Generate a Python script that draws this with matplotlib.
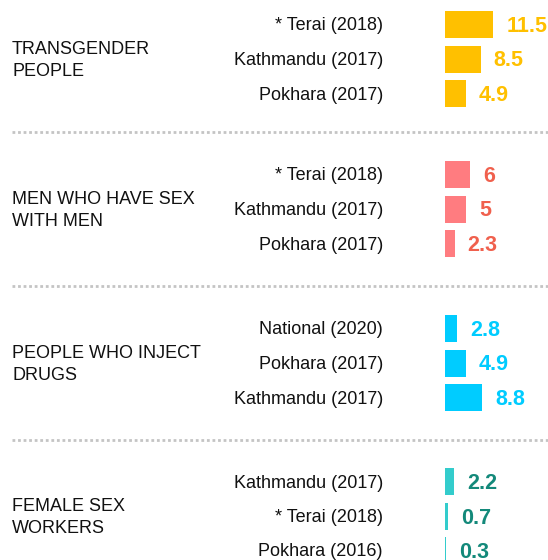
import matplotlib
matplotlib.use("Agg")
import matplotlib.pyplot as plt

groups = ["TRANSGENDER\nPEOPLE", "MEN WHO HAVE SEX\nWITH MEN", "PEOPLE WHO INJECT\nDRUGS", "FEMALE SEX\nWORKERS"]
sub_labels = [
    ["* Terai (2018)", "Kathmandu (2017)", "Pokhara (2017)"],
    ["* Terai (2018)", "Kathmandu (2017)", "Pokhara (2017)"],
    ["National (2020)", "Pokhara (2017)", "Kathmandu (2017)"],
    ["Kathmandu (2017)", "* Terai (2018)", "Pokhara (2016)"],
]
values = [
    [11.5, 8.5, 4.9],
    [6, 5, 2.3],
    [2.8, 4.9, 8.8],
    [2.2, 0.7, 0.3],
]
value_labels = [
    ["11.5", "8.5", "4.9"],
    ["6", "5", "2.3"],
    ["2.8", "4.9", "8.8"],
    ["2.2", "0.7", "0.3"],
]
bar_colors = ["#FFC000", "#FF7C80", "#00CCFF", "#33CCCC"]
text_colors = ["#FFC000", "#F0604D", "#00CCFF", "#13897A"]

W, H = 548, 560
fig = plt.figure(figsize=(W / 100, H / 100), dpi=100)
ax = fig.add_axes([0, 0, 1, 1])
ax.axis("off")

px_per_unit = 4.2
x_origin = 445
ax.set_xlim(-x_origin / px_per_unit, (W - x_origin) / px_per_unit)
ax.set_ylim(H, 0)

font = ["Liberation Sans Narrow", "Liberation Sans", "DejaVu Sans"]
group_first = [24.5, 174.5, 328.5, 481.5]
pitch = 34.5
bar_h = 27
seps = [132, 286, 440]
dy = 1.5

def px(xp):
    return (xp - x_origin) / px_per_unit

for gi, g in enumerate(groups):
    ys = [group_first[gi] + k * pitch for k in range(3)]
    ax.barh(ys, values[gi], height=bar_h, left=0, color=bar_colors[gi])
    ax.text(px(12), ys[1] + dy, g, ha="left", va="center", fontsize=13,
            family=font, color="#111111", linespacing=1.45)
    for k in range(3):
        ax.text(px(383), ys[k] + dy, sub_labels[gi][k], ha="right", va="center",
                fontsize=13, family=font, color="#111111")
        ax.text(values[gi][k] + 13 / px_per_unit, ys[k] + dy + 0.5, value_labels[gi][k],
                ha="left", va="center", fontsize=15.5, fontweight="bold",
                family=["Liberation Sans", "DejaVu Sans"], color=text_colors[gi])

for s in seps:
    ax.plot([px(12), px(548)], [s, s], color="#C4C4C4", lw=2,
            linestyle=(0, (1, 1)), solid_capstyle="butt")

fig.savefig("out.png", dpi=100)
